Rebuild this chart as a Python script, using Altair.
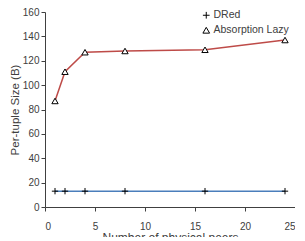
import altair as alt
import pandas as pd

peers = [1, 2, 4, 8, 16, 24]
dred = [13, 13, 13, 13, 13, 13]
absorption = [87, 111, 127, 128, 129, 137]
series_names = ["DRed", "Absorption Lazy"]
line_colors = ["#4a7ebb", "#be4b48"]
marker_colors = ["black", "black"]
shapes = ["M-1,0L1,0M0,-1L0,1", "triangle-up"]

rows = []
for x, v in zip(peers, dred):
    rows.append({"peers": x, "size": v, "series": "DRed"})
for x, v in zip(peers, absorption):
    rows.append({"peers": x, "size": v, "series": "Absorption Lazy"})
df = pd.DataFrame(rows)
df["series2"] = df["series"] + " "
series_names2 = [s + " " for s in series_names]

FONT = "Liberation Sans"
LX, LY = 156, -2

xenc = alt.X("peers:Q", scale=alt.Scale(domain=[0, 25], nice=False),
             axis=alt.Axis(values=[0, 5, 10, 15, 20, 25], title="Number of physical peers",
                           grid=False, labelPadding=10, tickSize=4,
                           labelOverlap=False, titleFontSize=12,
                           titleY=34, titleBaseline="alphabetic"))
yenc = alt.Y("size:Q", scale=alt.Scale(domain=[0, 160], nice=False),
             axis=alt.Axis(values=list(range(0, 161, 20)), title="Per-tuple Size (B)",
                           grid=False, titlePadding=2, tickSize=4, labelOverlap=False,
                           titleFontSize=11.5))

base = alt.Chart(df).encode(x=xenc, y=yenc)

lines = base.mark_line(strokeWidth=1.5).encode(
    stroke=alt.Stroke("series2:N", scale=alt.Scale(domain=series_names2, range=line_colors),
                      legend=None),
)

legend_pts = alt.Legend(orient="none", legendX=LX, legendY=LY, title=None,
                        symbolSize=45, symbolFillColor="white", symbolStrokeWidth=1,
                        labelFontSize=10.5, labelColor="#404040", labelFont=FONT,
                        rowPadding=4, padding=0, labelOffset=2)

points = base.mark_point(size=40, strokeWidth=1, filled=False, opacity=1, fill="white", fillOpacity=1).encode(
    shape=alt.Shape("series:N", scale=alt.Scale(domain=series_names, range=shapes), legend=legend_pts),
    color=alt.Color("series:N", scale=alt.Scale(domain=series_names, range=marker_colors), legend=legend_pts),
)

chart = alt.layer(lines, points).properties(
    width=250, height=195,
    autosize=alt.AutoSizeParams(type="none"),
    padding={"left": 37, "top": 4, "right": 0, "bottom": 30},
).configure_view(stroke=None).configure_axis(
    domainColor="#404040", tickColor="#404040", labelColor="#404040", titleColor="#404040",
    labelFont=FONT, titleFont=FONT, labelFontSize=10, titleFontWeight="normal",
)

chart.save("out.html", embed_options={"renderer": "svg", "actions": False})
